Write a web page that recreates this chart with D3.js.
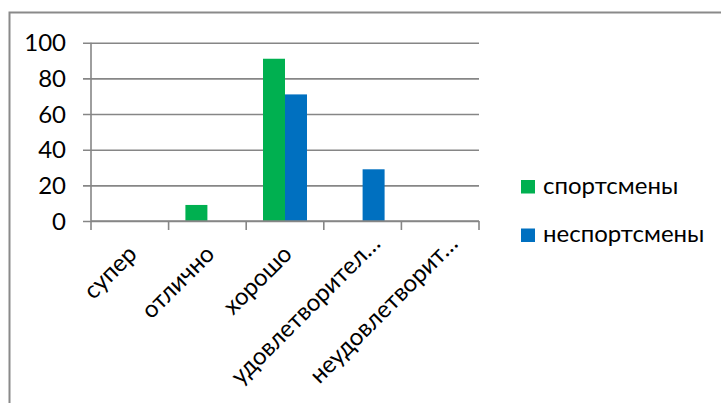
<!DOCTYPE html>
<html>
<head>
<meta charset="utf-8">
<script src="https://cdn.jsdelivr.net/npm/d3@7/dist/d3.min.js"></script>
<style>
  html, body { margin: 0; padding: 0; background: #fff; }
  svg { display: block; }
  text { font-family: Lato, "Open Sans", "DejaVu Sans", sans-serif; fill: #000; }
</style>
</head>
<body>
<svg id="chart" width="721" height="403"></svg>
<script>
// Оценки: спортсмены и неспортсмены, %
const categories = ["супер", "отлично", "хорошо", "удовлетворительно", "неудовлетворительно"];
const categoryLabels = ["супер", "отлично", "хорошо", "удовлетворител…", "неудовлетворит…"];
const seriesNames = ["спортсмены", "неспортсмены"];
const sportsmen = [0, 9, 91, 0, 0];
const nonSportsmen = [0, 0, 71, 29, 0];
const yTicks = [0, 20, 40, 60, 80, 100];
const colors = ["#00B050", "#0070C0"];

const seriesValues = [sportsmen, nonSportsmen];
const rows = categories.map((c, i) => ({
  category: c,
  values: seriesNames.map((s, j) => ({ series: s, value: seriesValues[j][i], color: colors[j] }))
}));

const svg = d3.select("#chart");
const gridColor = "#868686";
const fontSize = "24px";

// Chart frame
svg.append("rect")
  .attr("x", 9.5).attr("y", 12.5)
  .attr("width", 760).attr("height", 440)
  .attr("fill", "none")
  .attr("stroke", "#8a8a8a")
  .attr("stroke-width", 2);

const plot = { left: 91, right: 479, top: 42.7, bottom: 221 };

const x0 = d3.scaleBand().domain(categories).range([plot.left, plot.right]).padding(0);
const x1 = d3.scaleBand().domain(seriesNames).range([0, x0.bandwidth()])
  .paddingInner(0).paddingOuter(0.764);
const y = d3.scaleLinear().domain([0, 100]).range([plot.bottom, plot.top]);

// Horizontal gridlines with left tick marks
const yAxis = d3.axisLeft(y).tickValues(yTicks).tickSize(-(plot.right - plot.left)).tickPadding(0).tickFormat("");
const gy = svg.append("g").attr("transform", `translate(${plot.left},0)`).call(yAxis);
gy.select(".domain").remove();
gy.selectAll(".tick line")
  .attr("x1", -8)
  .attr("stroke", gridColor).attr("stroke-width", 1.6);

// Y tick labels
svg.append("g").selectAll("text")
  .data(yTicks)
  .join("text")
  .attr("x", 66)
  .attr("y", d => y(d))
  .attr("dy", "0.36em")
  .attr("text-anchor", "end")
  .style("font-size", fontSize)
  .text(d => d);

// Vertical axis line
svg.append("line")
  .attr("x1", plot.left).attr("x2", plot.left)
  .attr("y1", y(100)).attr("y2", plot.bottom)
  .attr("stroke", gridColor).attr("stroke-width", 1.6);

// Bars
const groups = svg.append("g").selectAll("g")
  .data(rows)
  .join("g")
  .attr("transform", d => `translate(${x0(d.category)},0)`);
groups.selectAll("rect")
  .data(d => d.values)
  .join("rect")
  .attr("x", d => x1(d.series))
  .attr("width", x1.bandwidth())
  .attr("y", d => y(d.value))
  .attr("height", d => y(0) - y(d.value))
  .attr("fill", d => d.color);

// Category axis with tick marks at band boundaries
const boundaries = categories.map(c => x0(c)).concat([plot.right]);
svg.append("line")
  .attr("x1", plot.left).attr("x2", plot.right)
  .attr("y1", y(0)).attr("y2", y(0))
  .attr("stroke", gridColor).attr("stroke-width", 1.6);
svg.append("g").selectAll("line")
  .data(boundaries)
  .join("line")
  .attr("x1", d => d).attr("x2", d => d)
  .attr("y1", y(0)).attr("y2", y(0) + 9)
  .attr("stroke", gridColor).attr("stroke-width", 1.6);

// Rotated category labels; truncated ones run a little further along the slant
svg.append("g").selectAll("text")
  .data(categories)
  .join("text")
  .attr("transform", d => `translate(${x0(d) + x0.bandwidth() / 2 + 8.5},${y(0) + 34.5}) rotate(-45)`)
  .attr("text-anchor", "end")
  .attr("dx", (d, i) => categoryLabels[i].endsWith("…") ? 15 : 0)
  .style("font-size", fontSize)
  .text((d, i) => categoryLabels[i]);

// Legend
const legend = svg.append("g").selectAll("g")
  .data(seriesNames)
  .join("g")
  .attr("transform", (d, i) => `translate(521,${193.5 + i * 48.5})`);
legend.append("rect")
  .attr("x", 0).attr("y", -13.5)
  .attr("width", 14).attr("height", 13.5)
  .attr("fill", (d, i) => colors[i]);
legend.append("text")
  .attr("x", 22).attr("y", 0)
  .style("font-size", fontSize)
  .text(d => d);
</script>
</body>
</html>
